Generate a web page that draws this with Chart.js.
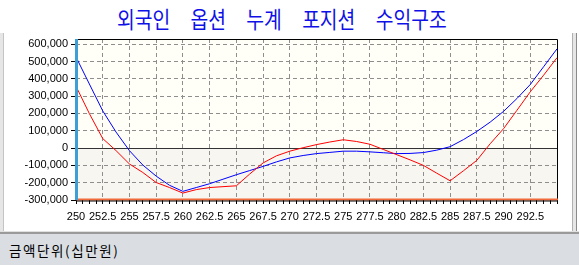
<!DOCTYPE html>
<html>
<head>
<meta charset="utf-8">
<script src="https://cdn.jsdelivr.net/npm/chart.js@4.4.0/dist/chart.umd.min.js"></script>
<style>
  body { margin: 0; width: 579px; height: 265px; background: #dadee3; position: relative; overflow: hidden; }
  .abs { position: absolute; }
  #panel { left: 0; top: 0; width: 579px; height: 233px; background: #fff; }
  #title {
    left: 117px; top: 3px; font-family: 'Noto Sans CJK KR', sans-serif; font-size: 19.3px;
    color: #0f0fe8; word-spacing: 16px; white-space: nowrap;
    transform: scaleY(1.15); transform-origin: left top;
  }
  #unit { left: 9px; top: 240px; font-family: 'Noto Sans CJK KR', sans-serif; font-size: 13.5px; letter-spacing: 1.6px; color: #000; }
  canvas { position: absolute; left: 0; top: 0; }
</style>
</head>
<body>
<div id="panel" class="abs"></div>
<div class="abs" style="left:0;top:33px;width:3px;height:198px;background:#e6e6e6;border-right:1px solid #c4c4c4"></div>
<div class="abs" style="left:572px;top:33px;width:3px;height:198px;background:#e6e6e6;border-left:1px solid #b0b0b0;border-right:1px solid #8a8a8a"></div>
<div class="abs" style="left:0;top:231px;width:579px;height:1px;background:#e0e0e0;border-bottom:2px solid #9a9a9a"></div>
<div id="title" class="abs">외국인 옵션 누계 포지션 수익구조</div>
<div id="unit" class="abs">금액단위(십만원)</div>
<canvas id="myChart" width="579" height="235"></canvas>
<script>
// underlying price levels (x axis)
const prices = [
  250, 251.25, 252.5, 253.75, 255, 256.25, 257.5, 258.75, 260, 261.25,
  262.5, 263.75, 265, 266.25, 267.5, 268.75, 270, 271.25, 272.5, 273.75,
  275, 276.25, 277.5, 278.75, 280, 281.25, 282.5, 283.75, 285, 286.25,
  287.5, 288.75, 290, 291.25, 292.5, 293.75, 295,
];

// red line: profit at expiry
const expiryPL = [
  357000, 199000, 55000, -15000, -92000, -141000, -199000, -228000, -260000, -240000,
  -228000, -223000, -218000, -150000, -86000, -45000, -18000, 2000, 20000, 35000,
  48000, 38000, 22000, -8000, -38000, -68000, -100000, -145000, -189000, -131000,
  -71000, 25000, 112000, 218000, 325000, 421000, 522000,
];

// blue line: current profit
const currentPL = [
  526000, 370000, 215000, 92000, -15000, -98000, -162000, -215000, -250000, -228000,
  -206000, -180000, -154000, -130000, -106000, -80000, -57000, -43000, -32000, -25000,
  -18000, -18000, -22000, -27000, -32000, -31000, -26000, -12000, 8000, 49000,
  96000, 150000, 212000, 286000, 367000, 470000, 573000,
];

// axis ranges / tick labels
const xRange = [250, 295];
const yRange = [-300000, 630000];
const xLabelStep = 2.5;
const yTicks = [-300000, -200000, -100000, 0, 100000, 200000, 300000, 400000, 500000, 600000];

const tickFont = { family: 'Liberation Sans', size: 11 };

// paint the plot background, zero line and frame like the original
const frame = {
  id: 'frame',
  beforeDraw(chart) {
    const { ctx, chartArea: a, scales: { y } } = chart;
    const zy = y.getPixelForValue(0);
    ctx.save();
    ctx.fillStyle = '#fffff8';
    ctx.fillRect(a.left, a.top, a.width, zy - a.top);
    ctx.fillStyle = '#f7f6f1';
    ctx.fillRect(a.left, zy, a.width, a.bottom - zy);
    ctx.restore();
  },
  beforeDatasetsDraw(chart) {
    const { ctx, chartArea: a, scales: { y } } = chart;
    const zy = Math.round(y.getPixelForValue(0)) + 0.5;
    ctx.save();
    ctx.strokeStyle = '#333';
    ctx.lineWidth = 1;
    ctx.beginPath();
    ctx.moveTo(a.left, zy);
    ctx.lineTo(a.right, zy);
    ctx.stroke();
    ctx.restore();
  },
  afterDraw(chart) {
    const { ctx, chartArea: a } = chart;
    ctx.save();
    ctx.lineWidth = 1;
    ctx.strokeStyle = '#000';
    ctx.beginPath();
    ctx.moveTo(a.left, a.top + 0.5);
    ctx.lineTo(a.right + 0.5, a.top + 0.5);
    ctx.lineTo(a.right + 0.5, a.bottom);
    ctx.stroke();
    // bottom edge
    ctx.fillStyle = '#f26a3a';
    ctx.fillRect(a.left, a.bottom - 1.5, a.width + 1, 2);
    ctx.fillStyle = '#000';
    ctx.fillRect(a.left, a.bottom + 0.5, a.width + 1, 1);
    // left edge
    ctx.fillStyle = '#3c9fd6';
    ctx.fillRect(a.left - 1, a.top, 3, a.bottom - a.top);
    ctx.restore();
  },
};

new Chart('myChart', {
  type: 'line',
  data: {
    datasets: [
      {
        data: prices.map((p, i) => ({ x: p, y: expiryPL[i] })),
        borderColor: '#ff0000',
        borderWidth: 1,
        pointRadius: 0,
        tension: 0,
      },
      {
        data: prices.map((p, i) => ({ x: p, y: currentPL[i] })),
        borderColor: '#0000ff',
        borderWidth: 1,
        pointRadius: 0,
        tension: 0,
      },
    ],
  },
  options: {
    responsive: false,
    animation: false,
    layout: { padding: { top: 39, right: 22, left: 0, bottom: 0 } },
    plugins: { legend: { display: false }, tooltip: { enabled: false } },
    scales: {
      x: {
        type: 'linear',
        min: xRange[0],
        max: xRange[1],
        afterFit: (s) => { s.height = 35; },
        ticks: {
          stepSize: 0.625,
          autoSkip: false,
          maxRotation: 0,
          padding: 6,
          color: '#000',
          font: tickFont,
          callback: (v) => (v % xLabelStep === 0 && v < xRange[1] ? v : ''),
        },
        grid: {
          color: (c) => (c.tick && c.tick.value % xLabelStep === 0 && c.tick.value > xRange[0] && c.tick.value < xRange[1] ? '#8e8e8e' : 'rgba(0,0,0,0)'),
          tickColor: '#000',
          tickLength: 4,
          tickBorderDash: [],
        },
        border: { display: false, dash: [4, 3] },
      },
      y: {
        min: yRange[0],
        max: yRange[1],
        afterFit: (s) => { s.width = 76; },
        afterBuildTicks: (s) => { s.ticks = yTicks.map((v) => ({ value: v })); },
        ticks: {
          autoSkip: false,
          padding: 3,
          color: '#000',
          font: tickFont,
          callback: (v) => Number(v).toLocaleString('en-US'),
        },
        grid: {
          color: (c) => (c.tick && c.tick.value > yRange[0] ? '#8e8e8e' : 'rgba(0,0,0,0)'),
          tickColor: '#000',
          tickLength: 5,
          tickBorderDash: [],
        },
        border: { display: false, dash: [4, 3] },
      },
    },
  },
  plugins: [frame],
});
</script>
</body>
</html>
